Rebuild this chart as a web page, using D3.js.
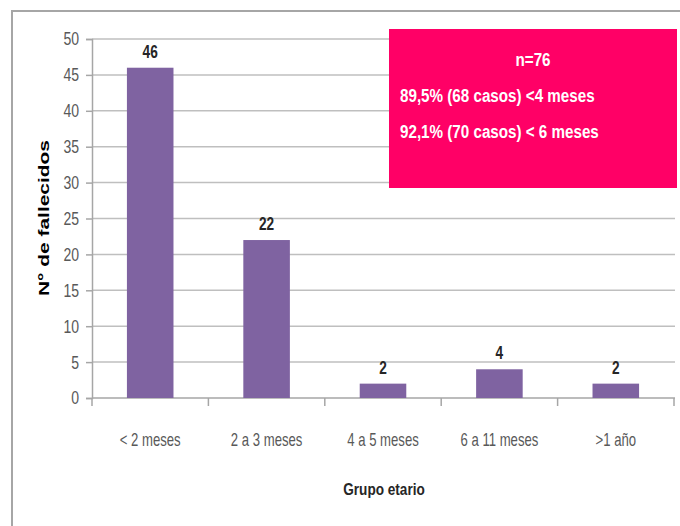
<!DOCTYPE html>
<html>
<head>
<meta charset="utf-8">
<script src="https://cdn.jsdelivr.net/npm/d3@7"></script>
<style>
  body { margin: 0; background: #fff; }
  svg { display: block; }
</style>
</head>
<body>
<script>
// age groups and deaths
const grupos = ["< 2 meses", "2 a 3 meses", "4 a 5 meses", "6 a 11 meses", ">1 año"];
const fallecidos = [46, 22, 2, 4, 2];
const yTicks = [0, 5, 10, 15, 20, 25, 30, 35, 40, 45, 50];
const notas = ["n=76", "89,5% (68 casos) <4 meses", "92,1% (70 casos) < 6 meses"];

const width = 680, height = 526;
const font = "'Liberation Sans', Arial, sans-serif";

const svg = d3.select("body").append("svg").attr("width", width).attr("height", height);

// the original used a narrow font, so squeeze text horizontally
const squeeze = (sel, sx, px, py) => sel
  .attr("transform", (d, i) => `translate(${px(d, i)},${py(d, i)}) scale(${sx},1)`)
  .style("font-family", font);

// outer chart frame (runs off the right/bottom edge like the screenshot)
svg.append("rect")
  .attr("x", 12).attr("y", 11)
  .attr("width", width + 20).attr("height", height + 20)
  .attr("fill", "#fff").attr("stroke", "#a6a6a6").attr("stroke-width", 2);

const x = d3.scaleBand().domain(grupos).range([92, 674]).paddingInner(0.6).paddingOuter(0.3);
const y = d3.scaleLinear().domain([0, 50]).range([398, 39]);

// gridlines
svg.append("g").selectAll("line")
  .data(yTicks.filter(d => d > 0))
  .enter().append("line")
  .attr("x1", 92).attr("x2", 675)
  .attr("y1", d => y(d)).attr("y2", d => y(d))
  .attr("stroke", "#bfbfbf").attr("stroke-width", 1.5);

// y axis
const yAxis = svg.append("g").attr("transform", "translate(92,0)")
  .call(d3.axisLeft(y).tickValues(yTicks).tickSize(6).tickFormat(""));
yAxis.select(".domain").attr("stroke", "#a6a6a6").attr("stroke-width", 1.5);
yAxis.selectAll(".tick line").attr("stroke", "#a6a6a6").attr("stroke-width", 1.5);

svg.append("g").selectAll("text")
  .data(yTicks).enter().append("text")
  .call(squeeze, 0.78, () => 79, d => y(d))
  .attr("dy", "0.36em")
  .attr("text-anchor", "end")
  .attr("fill", "#595959")
  .style("font-size", "18px")
  .text(d => d);

// x axis: ticks between categories
const step = x.step();
const xEdges = d3.range(grupos.length + 1).map(i => 92 + i * step);
svg.append("line")
  .attr("x1", 92).attr("x2", 675).attr("y1", y(0)).attr("y2", y(0))
  .attr("stroke", "#a6a6a6").attr("stroke-width", 1.5);
svg.append("g").selectAll("line")
  .data(xEdges).enter().append("line")
  .attr("x1", d => d).attr("x2", d => d)
  .attr("y1", y(0)).attr("y2", y(0) + 8)
  .attr("stroke", "#a6a6a6").attr("stroke-width", 1.5);

svg.append("g").selectAll("text")
  .data(grupos).enter().append("text")
  .call(squeeze, 0.73, d => x(d) + x.bandwidth() / 2, () => 446)
  .attr("text-anchor", "middle")
  .attr("fill", "#595959")
  .style("font-size", "18px")
  .text(d => d);

// bars
svg.append("g").selectAll("rect")
  .data(fallecidos).enter().append("rect")
  .attr("x", (d, i) => x(grupos[i]))
  .attr("y", d => y(d))
  .attr("width", x.bandwidth())
  .attr("height", d => y(0) - y(d))
  .attr("fill", "#7f63a1");

// value labels
svg.append("g").selectAll("text")
  .data(fallecidos).enter().append("text")
  .call(squeeze, 0.76, (d, i) => x(grupos[i]) + x.bandwidth() / 2, d => y(d) - 10)
  .attr("text-anchor", "middle")
  .attr("fill", "#262626")
  .style("font-size", "18px").style("font-weight", "bold")
  .text(d => d);

// axis titles
svg.append("text")
  .attr("transform", "translate(49,218) rotate(-90)")
  .attr("text-anchor", "middle")
  .attr("fill", "#000")
  .attr("textLength", 156).attr("lengthAdjust", "spacingAndGlyphs")
  .style("font-family", font)
  .style("font-size", "14px").style("font-weight", "bold")
  .text("N° de fallecidos");

svg.append("text")
  .call(squeeze, 0.8, () => 384, () => 495)
  .attr("text-anchor", "middle")
  .attr("fill", "#262626")
  .style("font-size", "17px").style("font-weight", "bold")
  .text("Grupo etario");

// annotation box
svg.append("rect")
  .attr("x", 389).attr("y", 29).attr("width", 288).attr("height", 159)
  .attr("fill", "#ff0066");

const note = svg.append("g").attr("fill", "#fff")
  .style("font-size", "19px").style("font-weight", "bold");
note.append("text").call(squeeze, 0.8, () => 533, () => 66).attr("text-anchor", "middle").text(notas[0]);
note.append("text").call(squeeze, 0.8, () => 400, () => 102).text(notas[1]);
note.append("text").call(squeeze, 0.8, () => 400, () => 138).text(notas[2]);
</script>
</body>
</html>
